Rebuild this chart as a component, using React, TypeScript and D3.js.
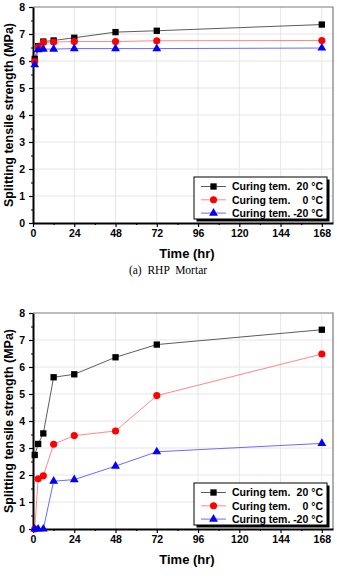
import React, { useEffect, useRef } from 'react';
import * as d3 from 'd3';

// curing time (hr)
const times = [1, 3, 6, 12, 24, 48, 72, 168];

// (a) RHP Mortar
const mortar20 = [6.08, 6.55, 6.72, 6.76, 6.86, 7.07, 7.12, 7.35];
const mortar0 = [5.98, 6.52, 6.69, 6.70, 6.72, 6.72, 6.75, 6.76];
const mortarMinus20 = [5.86, 6.42, 6.44, 6.44, 6.46, 6.46, 6.46, 6.48];

// (b) second panel
const concrete20 = [2.74, 3.15, 3.54, 5.62, 5.73, 6.36, 6.83, 7.38];
const concrete0 = [0, 1.86, 1.97, 3.14, 3.46, 3.63, 4.94, 6.48];
const concreteMinus20 = [0, 0, 0, 1.77, 1.83, 2.33, 2.86, 3.17];

const xTicks = [0, 24, 48, 72, 96, 120, 144, 168];
const xMinorTicks = [12, 36, 60, 84, 108, 132, 156];
const yTicks = [0, 1, 2, 3, 4, 5, 6, 7, 8];
const yMinorTicks = [0.5, 1.5, 2.5, 3.5, 4.5, 5.5, 6.5, 7.5];

const legendPrefix = 'Curing tem.';
const legendTemps = ['20 °C', '0 °C', '-20 °C'];

const STYLES = [
  { line: '#4a4a4a', fill: '#000', symbol: d3.symbolSquare, size: 40 },
  { line: '#ff7b7b', fill: '#ff0000', symbol: d3.symbolCircle, size: 40 },
  { line: '#5a5aff', fill: '#0000ff', symbol: d3.symbolTriangle, size: 34 },
];

const FONT = '"Liberation Sans", Arial, sans-serif';

function drawPanel(svg, top, series, caption) {
  const left = 33;
  const right = 333;
  const plotH = 216;

  const x = d3.scaleLinear().domain([0, 174.5]).range([left, right]);
  const y = d3.scaleLinear().domain([0, 8]).range([top + plotH, top]);

  const g = svg.append('g');

  // grid
  g.append('g')
    .selectAll('line.vx')
    .data(xTicks.slice(1))
    .join('line')
    .attr('x1', d => x(d))
    .attr('x2', d => x(d))
    .attr('y1', y(0))
    .attr('y2', y(8))
    .attr('stroke', '#e3e3e3')
    .attr('stroke-width', 0.9);
  g.append('g')
    .selectAll('line.hy')
    .data(yTicks.slice(1, -1))
    .join('line')
    .attr('x1', x.range()[0])
    .attr('x2', x.range()[1])
    .attr('y1', d => y(d))
    .attr('y2', d => y(d))
    .attr('stroke', '#e3e3e3')
    .attr('stroke-width', 0.9);

  // top and right frame
  g.append('path')
    .attr('d', `M${left},${top}H${right}V${top + plotH}`)
    .attr('fill', 'none')
    .attr('stroke', '#7a7a7a')
    .attr('stroke-width', 1.2);

  // minor ticks
  g.append('g')
    .attr('transform', `translate(0,${y(0)})`)
    .call(d3.axisBottom(x).tickValues(xMinorTicks).tickSize(2).tickSizeOuter(0).tickFormat(() => ''))
    .call(a => a.select('.domain').remove())
    .call(a => a.selectAll('line').attr('stroke-width', 1.2));
  g.append('g')
    .attr('transform', `translate(${left},0)`)
    .call(d3.axisLeft(y).tickValues(yMinorTicks).tickSize(2).tickSizeOuter(0).tickFormat(() => ''))
    .call(a => a.select('.domain').remove())
    .call(a => a.selectAll('line').attr('stroke-width', 1.2));

  // major axes
  const xAxis = g.append('g')
    .attr('transform', `translate(0,${y(0)})`)
    .call(d3.axisBottom(x).tickValues(xTicks).tickSize(4).tickSizeOuter(0).tickPadding(3));
  const yAxis = g.append('g')
    .attr('transform', `translate(${left},0)`)
    .call(d3.axisLeft(y).tickValues(yTicks).tickSize(4).tickSizeOuter(0).tickPadding(4));
  [xAxis, yAxis].forEach(a => {
    a.select('.domain').attr('stroke', '#000').attr('stroke-width', 2);
    a.selectAll('line').attr('stroke', '#000').attr('stroke-width', 1.2);
    a.selectAll('text')
      .attr('font-family', FONT)
      .attr('font-weight', 'bold')
      .attr('font-size', 10.5)
      .attr('fill', '#000');
  });
  yAxis.selectAll('text').attr('dy', '0.36em');

  // series
  const line = d3.line().x(d => x(d[0])).y(d => y(d[1]));
  series.forEach((vals, i) => {
    const st = STYLES[i];
    const pts = times.map((t, k) => [t, vals[k]]);
    g.append('path')
      .attr('d', line(pts))
      .attr('fill', 'none')
      .attr('stroke', st.line)
      .attr('stroke-width', 0.9);
  });
  series.forEach((vals, i) => {
    const st = STYLES[i];
    const pts = times.map((t, k) => [t, vals[k]]);
    g.append('g')
      .selectAll('path')
      .data(pts)
      .join('path')
      .attr('transform', d => `translate(${x(d[0])},${y(d[1])})`)
      .attr('d', d3.symbol().type(st.symbol).size(st.size)())
      .attr('fill', st.fill);
  });

  // axis titles
  g.append('text')
    .attr('transform', `translate(12.5,${top + plotH / 2}) rotate(-90)`)
    .attr('text-anchor', 'middle')
    .attr('font-family', FONT)
    .attr('font-weight', 'bold')
    .attr('font-size', 12.5)
    .text('Splitting tensile strength (MPa)');
  g.append('text')
    .attr('x', 187)
    .attr('y', top + plotH + 35)
    .attr('text-anchor', 'middle')
    .attr('font-family', FONT)
    .attr('font-weight', 'bold')
    .attr('font-size', 13)
    .text('Time (hr)');

  // legend
  const lx = 194;
  const lw = 133;
  const lh = 42;
  const ly = top + plotH - 4 - lh;
  const leg = g.append('g');
  leg.append('rect')
    .attr('x', lx + 2.5)
    .attr('y', ly + 2.5)
    .attr('width', lw)
    .attr('height', lh)
    .attr('fill', '#000');
  leg.append('rect')
    .attr('x', lx)
    .attr('y', ly)
    .attr('width', lw)
    .attr('height', lh)
    .attr('fill', '#fff')
    .attr('stroke', '#000')
    .attr('stroke-width', 1);
  legendTemps.forEach((temp, i) => {
    const st = STYLES[i];
    const ry = ly + 9.5 + i * 13.3;
    leg.append('line')
      .attr('x1', lx + 7)
      .attr('x2', lx + 32)
      .attr('y1', ry)
      .attr('y2', ry)
      .attr('stroke', st.line)
      .attr('stroke-width', 0.9);
    leg.append('path')
      .attr('transform', `translate(${lx + 19.5},${ry})`)
      .attr('d', d3.symbol().type(st.symbol).size(st.size)())
      .attr('fill', st.fill);
    leg.append('text')
      .attr('x', lx + 38)
      .attr('y', ry)
      .attr('dy', '0.36em')
      .attr('font-family', FONT)
      .attr('font-weight', 'bold')
      .attr('font-size', 10.5)
      .text(legendPrefix);
    leg.append('text')
      .attr('x', lx + 129)
      .attr('y', ry)
      .attr('dy', '0.36em')
      .attr('text-anchor', 'end')
      .attr('font-family', FONT)
      .attr('font-weight', 'bold')
      .attr('font-size', 10.5)
      .text(temp);
  });

  if (caption) {
    g.append('text')
      .attr('x', 168)
      .attr('y', top + plotH + 51)
      .attr('text-anchor', 'middle')
      .attr('font-family', '"Liberation Serif", "Times New Roman", serif')
      .attr('font-size', 11.5)
      .attr('xml:space', 'preserve')
      .style('white-space', 'pre')
      .text(caption);
  }
}

export default function App() {
  const svgRef = useRef(null);

  useEffect(() => {
    const svg = d3.select(svgRef.current);
    svg.selectAll('*').remove();
    drawPanel(svg, 7, [mortar20, mortar0, mortarMinus20], '(a)  RHP  Mortar');
    drawPanel(svg, 313, [concrete20, concrete0, concreteMinus20], null);
  }, []);

  return (
    <svg
      ref={svgRef}
      width={337}
      height={579}
      style={{ position: 'absolute', left: 0, top: 0, background: '#fff' }}
    />
  );
}
